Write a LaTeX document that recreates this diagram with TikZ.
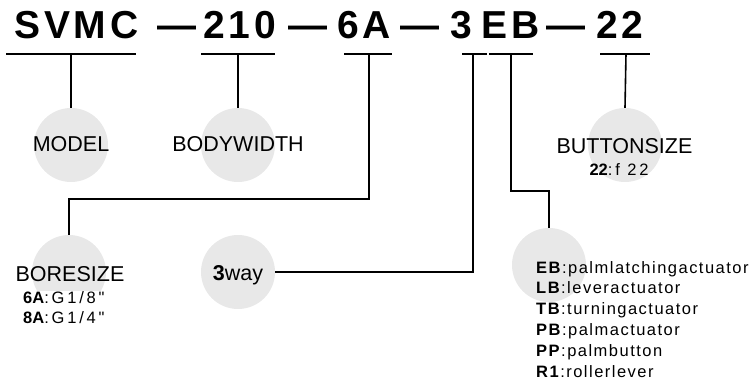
\documentclass[tikz,border=0pt]{standalone}
\usepackage{fontspec}
\setmainfont{Liberation Sans}
\newfontfamily\headfont[LetterSpace=10]{Liberation Sans}
\newfontfamily\codefont[LetterSpace=17]{Liberation Sans}
\newfontfamily\listfont[LetterSpace=9]{Liberation Sans}
\usepackage{tikz}
\definecolor{bubblegray}{HTML}{E8E8E8}

\begin{document}
\begin{tikzpicture}[x=1pt, y=-1pt,
  head/.style   = {font=\headfont\bfseries\fontsize{39}{39}\selectfont,
                   anchor=base west, inner sep=0pt},
  lbl/.style    = {font=\fontsize{21.5}{24}\selectfont, anchor=base, inner sep=0pt},
  code/.style   = {font=\fontsize{16.5}{20}\selectfont, anchor=base west, inner sep=0pt,
                   text height=12pt, text depth=8pt},
  bubble/.style = {circle, fill=bubblegray, minimum size=74pt, inner sep=0pt},
  wire/.style   = {draw, line width=1.6pt}
                    ]
\useasboundingbox (0,0) rectangle (753,384);

% bubbles
\node[bubble] (b-model)  at (71,145)  {};
\node[bubble] (b-body)   at (238,145) {};
\node[bubble] (b-button) at (625,145) {};
\node[bubble] (b-bore)   at (69,272)  {};
\node[bubble] (b-way)    at (238,272) {};
\node[bubble] (b-eb)     at (549,265) {};

% part number
\node[head] (t-svmc) at (14,38.5)  {SVMC};
\node[head] (t-d1)   at (157,38.5) {—};
\node[head] (t-210)  at (203,38.5) {210};
\node[head] (t-d2)   at (288,38.5) {—};
\node[head] (t-6a)   at (337,38.5) {6A};
\node[head] (t-d3)   at (400,38.5) {—};
\node[head] (t-3)    at (450,38.5) {3};
\node[head] (t-eb)   at (481,38.5) {EB};
\node[head] (t-d4)   at (546,38.5) {—};
\node[head] (t-22)   at (596,38.5) {22};

\foreach \a/\b in {6/136, 201/275, 344/392, 462/487, 489/533, 600/650}
  \draw[wire] (\a,54) -- (\b,54);

\coordinate (u-model)  at (71,54);
\coordinate (u-body)   at (238,54);
\coordinate (u-bore)   at (369,54);
\coordinate (u-way)    at (473,54);
\coordinate (u-eb)     at (511,54);
\coordinate (u-button) at (626,54);

% labels
\node[lbl] (l-model)  at (71,151)    {MODEL};
\node[lbl] (l-body)   at (238,151)   {BODYWIDTH};
\node[lbl] (l-button) at (624.5,153) {BUTTONSIZE};
\node[code, anchor=base] (l-phi) at (619,175) {\textbf{22}{\codefont:f 22}};
\node[lbl] (l-bore)   at (70,281)    {BORESIZE};
\node[lbl] (l-way)    at (238,280)   {\textbf{3}way};

\node[code, fill=white] (s-6a) at (23,303) {\textbf{6A}{\codefont:G1/8"}};
\node[code, fill=white] (s-8a) at (23,323) {\textbf{8A}{\codefont:G1/4"}};

\foreach \c/\t [count=\i] in {EB/palmlatchingactuator, LB/leveractuator,
                              TB/turningactuator, PB/palmactuator,
                              PP/palmbutton, R1/rollerlever}
  \node[code, font=\listfont\fontsize{16.5}{20}\selectfont] (a-\c)
    at (536,{273+20.8*(\i-1)}) {\textbf{\c}:\t};

% connectors
\draw[wire] (u-model) -- (b-model.north);
\draw[wire] (u-body) -- (b-body.north);
\draw[wire] (u-button) -- (b-button.north);
\draw[wire] (u-bore) -- ++(0,145) -| (b-bore.north);
\draw[wire] (b-way.east) -| (u-way);
\draw[wire] (u-eb) -- ++(0,137) -| (b-eb.north);
\end{tikzpicture}
\end{document}
